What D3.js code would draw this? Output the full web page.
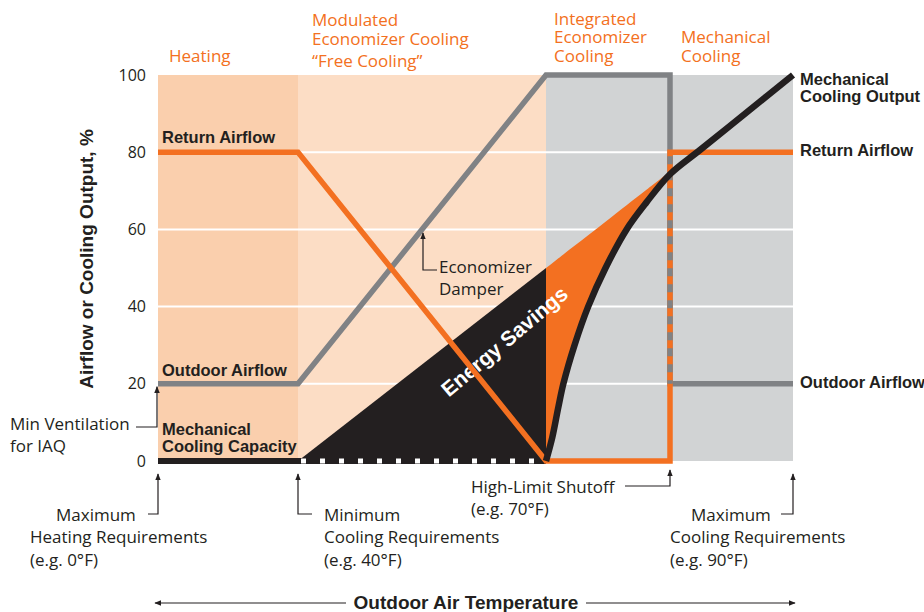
<!DOCTYPE html>
<html>
<head>
<meta charset="utf-8">
<script src="https://cdn.jsdelivr.net/npm/d3@7"></script>
<style>
  body { margin: 0; background: #fff; }
</style>
</head>
<body>
<div id="chartContainer"></div>
<script>
// Stage boundaries along the outdoor air temperature (°F)
const stageEdges = [0, 40, 60, 70, 90];
const stageNames = [
    ["Heating"],
    ["Modulated", "Economizer Cooling", "“Free Cooling”"],
    ["Integrated", "Economizer", "Cooling"],
    ["Mechanical", "Cooling"]
];
const yTicks = [0, 20, 40, 60, 80, 100];

// Series, [°F, %]
const returnAirflow = [[0, 80], [40, 80], [60, 0], [70, 0], [70, 80], [90, 80]];
const outdoorAirflow = [[0, 20], [40, 20], [60, 100], [70, 100], [70, 20], [90, 20]];
const coolingLoad = [[40, 0], [60, 50], [70, 75]];
const mechOutput = [[60, 0], [60.5, 6], [61.0, 14], [61.4, 20], [62.3, 30], [63.4, 40],
    [64.8, 50], [66.5, 60], [68.1, 67], [70, 74.3], [74.9, 80.6], [83, 91], [90, 100]];
const mechCapacity = [[0, 0], [40, 0], [60, 0]];

function createChart() {
    const width = 924;
    const height = 612;

    const orange = "#f37021";
    const grey = "#808285";
    const ink = "#231f20";
    const bandColors = ["#facfad", "#fcddc5", "#d1d3d4", "#d1d3d4"];

    // piecewise x scale: the temperature axis is schematic, not linear
    const x = d3.scaleLinear()
        .domain([0, 40, 70, 90])
        .range([158, 298, 670, 793]);

    const y = d3.scaleLinear()
        .domain([0, 100])
        .range([461, 75]);

    const svg = d3.create("svg")
        .attr("viewBox", [0, 0, width, height])
        .attr("width", width)
        .attr("height", height)
        .style("font-family", "'Open Sans', sans-serif");

    const defs = svg.append("defs");
    defs.append("marker")
        .attr("id", "arrow")
        .attr("viewBox", "0 0 10 10")
        .attr("refX", 9).attr("refY", 5)
        .attr("markerWidth", 7).attr("markerHeight", 10)
        .attr("markerUnits", "userSpaceOnUse")
        .attr("orient", "auto")
        .append("path")
        .attr("d", "M0,1 L10,5 L0,9 Z")
        .attr("fill", ink);

    // Stage bands
    const bands = d3.pairs(stageEdges);
    svg.append("g")
        .selectAll("rect")
        .data(bands)
        .join("rect")
        .attr("x", d => x(d[0]))
        .attr("y", y(100))
        .attr("width", d => x(d[1]) - x(d[0]))
        .attr("height", y(0) - y(100))
        .attr("fill", (d, i) => bandColors[i]);

    // Gridlines
    svg.append("g")
        .selectAll("line")
        .data(yTicks.filter(v => v > 0 && v < 100))
        .join("line")
        .attr("x1", x(0)).attr("x2", x(90))
        .attr("y1", d => y(d)).attr("y2", d => y(d))
        .attr("stroke", "#fff")
        .attr("stroke-width", 2);

    // Y axis labels
    svg.append("g")
        .attr("transform", `translate(${x(0)},0)`)
        .call(d3.axisLeft(y).tickValues(yTicks).tickSize(0).tickPadding(12))
        .call(g => g.select(".domain").remove())
        .call(g => g.selectAll("text")
            .attr("fill", ink)
            .style("font-family", "'Open Sans', sans-serif")
            .style("font-size", "16px"));

    svg.append("text")
        .attr("transform", `translate(93,259) rotate(-90)`)
        .attr("text-anchor", "middle")
        .style("font-family", "'Liberation Sans', Arial, sans-serif")
        .style("font-weight", "bold")
        .style("font-size", "19px")
        .attr("fill", ink)
        .text("Airflow or Cooling Output, %");

    // Energy savings areas
    const load = d3.scaleLinear()
        .domain(coolingLoad.map(d => d[0]))
        .range(coolingLoad.map(d => d[1]));
    const curve = d3.curveCatmullRom.alpha(0.5);

    svg.append("path")
        .datum(coolingLoad.filter(d => d[0] <= 60))
        .attr("fill", ink)
        .attr("d", d3.area()
            .x(d => x(d[0]))
            .y0(y(0))
            .y1(d => y(d[1])));

    svg.append("path")
        .datum(mechOutput.filter(d => d[0] <= 70))
        .attr("fill", orange)
        .attr("d", d3.area()
            .curve(curve)
            .x(d => x(d[0]))
            .y0(d => y(d[1]))
            .y1(d => y(load(d[0]))));

    svg.append("text")
        .attr("transform", "translate(509,347) rotate(-40)")
        .attr("text-anchor", "middle")
        .style("font-family", "'Liberation Sans', Arial, sans-serif")
        .style("font-weight", "bold")
        .style("font-size", "21px")
        .attr("fill", "#fff")
        .text("Energy Savings");

    const line = d3.line()
        .x(d => x(d[0]))
        .y(d => y(d[1]));

    // Mechanical cooling capacity on the baseline
    svg.append("path")
        .datum(mechCapacity)
        .attr("fill", "none")
        .attr("stroke", ink)
        .attr("stroke-width", 6)
        .attr("d", line);
    svg.append("path")
        .datum(mechCapacity.filter(d => d[0] >= 40))
        .attr("fill", "none")
        .attr("stroke", "#fff")
        .attr("stroke-width", 5)
        .attr("stroke-dasharray", "5 14")
        .attr("stroke-dashoffset", -3)
        .attr("d", line);

    // Outdoor airflow (economizer damper)
    svg.append("path")
        .datum(outdoorAirflow)
        .attr("fill", "none")
        .attr("stroke", grey)
        .attr("stroke-width", 5.5)
        .attr("d", line);

    // Return airflow
    svg.append("path")
        .datum(returnAirflow)
        .attr("fill", "none")
        .attr("stroke", orange)
        .attr("stroke-width", 5.5)
        .attr("d", line);

    // where both dampers share the vertical, alternate the colours
    svg.append("path")
        .datum([[70, 80], [70, 20]])
        .attr("fill", "none")
        .attr("stroke", grey)
        .attr("stroke-width", 5.5)
        .attr("stroke-dasharray", "8 8")
        .attr("stroke-dashoffset", -4)
        .attr("d", line);

    // Mechanical cooling output
    svg.append("path")
        .datum(mechOutput)
        .attr("fill", "none")
        .attr("stroke", ink)
        .attr("stroke-width", 6.5)
        .attr("d", d3.line().curve(curve).x(d => x(d[0])).y(d => y(d[1])));

    // Stage titles
    const stageLabelPos = [
        { x: 169, y: [62] },
        { x: 312, y: [26, 45, 67] },
        { x: 554, y: [25, 43, 62] },
        { x: 681, y: [43, 62] }
    ];
    stageNames.forEach((lines, i) => {
        const t = svg.append("text")
            .attr("fill", orange)
            .style("font-size", "17px");
        lines.forEach((s, j) => t.append("tspan")
            .attr("x", stageLabelPos[i].x)
            .attr("y", stageLabelPos[i].y[j])
            .text(s));
    });

    // Bold series labels
    const bold = (lines, px, ys) => {
        const t = svg.append("text")
            .attr("fill", ink)
            .style("font-family", "'Liberation Sans', Arial, sans-serif")
            .style("font-weight", "bold")
            .style("font-size", "16.5px");
        lines.forEach((s, j) => t.append("tspan").attr("x", px).attr("y", ys[j]).text(s));
    };
    bold(["Return Airflow"], 162, [143]);
    bold(["Outdoor Airflow"], 162, [376]);
    bold(["Mechanical", "Cooling Capacity"], 162, [435, 452]);
    bold(["Mechanical", "Cooling Output"], 800, [85, 102]);
    bold(["Return Airflow"], 800, [156]);
    bold(["Outdoor Airflow"], 800, [388]);

    // Annotations
    const note = (lines, px, ys) => {
        const t = svg.append("text")
            .attr("fill", ink)
            .style("font-size", "17px");
        lines.forEach((s, j) => t.append("tspan").attr("x", px[j]).attr("y", ys[j]).text(s));
    };
    const leader = (d) => svg.append("path")
        .attr("d", d)
        .attr("fill", "none")
        .attr("stroke", ink)
        .attr("stroke-width", 1.2)
        .attr("marker-end", "url(#arrow)");

    note(["Min Ventilation", "for IAQ"], [10, 10], [430, 452]);
    leader(`M136,427 H${x(0) - 1} V${y(20) + 3}`);

    note(["Economizer", "Damper"], [439, 439], [273, 295]);
    leader("M437,270 H423 V233");

    note(["Maximum", "Heating Requirements", "(e.g. 0°F)"], [56, 30, 30], [521, 543, 566]);
    leader(`M148,514 H${x(0)} V474`);

    note(["Minimum", "Cooling Requirements", "(e.g. 40°F)"], [324, 324, 324], [521, 543, 566]);
    leader(`M312,514 H${x(40)} V474`);

    note(["High-Limit Shutoff", "(e.g. 70°F)"], [471, 471], [493, 515]);
    leader(`M625,486 H${x(70)} V470`);

    note(["Maximum", "Cooling Requirements", "(e.g. 90°F)"], [691, 670, 670], [521, 543, 566]);
    leader(`M781,514 H${x(90)} V474`);

    // Outdoor air temperature axis title
    svg.append("text")
        .attr("x", 466).attr("y", 609)
        .attr("text-anchor", "middle")
        .attr("fill", ink)
        .style("font-family", "'Liberation Sans', Arial, sans-serif")
        .style("font-weight", "bold")
        .style("font-size", "19px")
        .text("Outdoor Air Temperature");
    leader("M346,603 H155");
    leader("M586,603 H795");

    return svg.node();
}

document.getElementById("chartContainer").appendChild(createChart());
</script>
</body>
</html>
